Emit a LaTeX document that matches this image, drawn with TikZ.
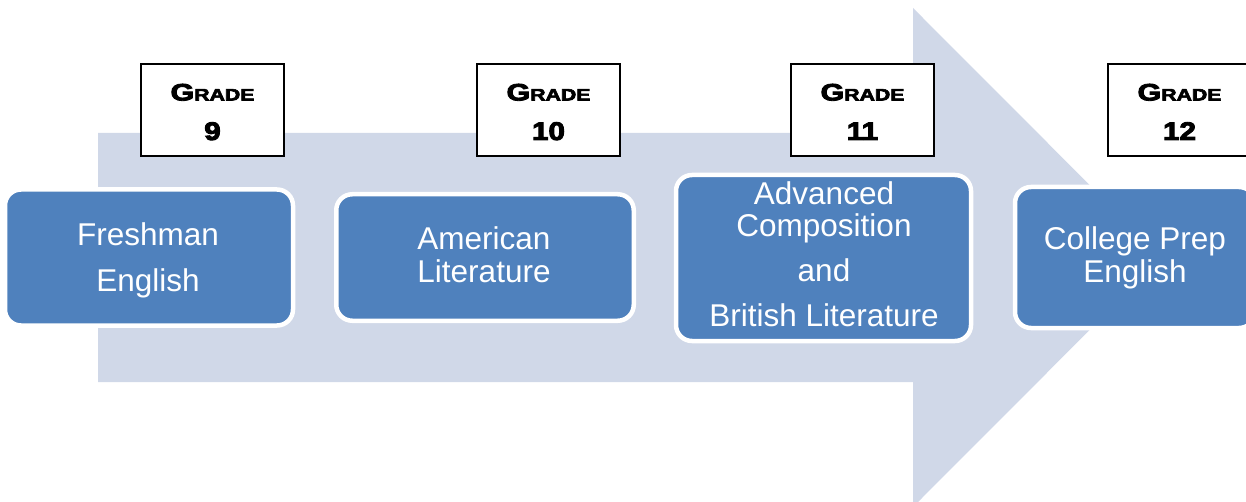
\documentclass[tikz,border=0pt]{standalone}
\usepackage{fontspec}
\usepackage{graphicx}
\setmainfont{Liberation Sans}
\newfontfamily\gradefont[FakeBold=3.5]{Liberation Sans Bold}
\definecolor{arrowfill}{RGB}{208,216,232}
\definecolor{boxblue}{RGB}{79,129,189}
\newcommand\gradeword{\scalebox{1.28}[1]{\gradefont\fontsize{23.8}{26}\selectfont G\fontsize{16.6}{18}\selectfont RADE}}
\newcommand\gradenum[1]{\scalebox{1.16}[1]{\gradefont\fontsize{25.5}{27}\selectfont #1}}
\newcommand\coursetxt[2]{\parbox[t]{320pt}{\centering\fontsize{31.5}{#1}\selectfont #2}}
\begin{document}
\begin{tikzpicture}[x=1pt,y=-1pt,
  course/.style={draw=white, line width=4.5pt, fill=boxblue, rounded corners=16pt, inner sep=0pt},
  coursetext/.style={anchor=base, text=white, inner sep=0pt},
  gradebox/.style={draw=black, line width=1.8pt, fill=white, inner sep=0pt},
  gradetext/.style={anchor=base, inner sep=0pt}]
\useasboundingbox (0,0) rectangle (1246,502);
\clip (0,0) rectangle (1246,502);
% big arrow
\fill[arrowfill] (98,133) -- (913,133) -- (913,8) -- (1162,257.5) -- (913,507) -- (913,382) -- (98,382) -- cycle;
% grade boxes
\node (g1) [gradebox, minimum width=143pt, minimum height=92pt] at (212.5,110) {};
\node (g2) [gradebox, minimum width=143pt, minimum height=92pt] at (548.5,110) {};
\node (g3) [gradebox, minimum width=143pt, minimum height=92pt] at (862.5,110) {};
\node (g4) [gradebox, minimum width=143pt, minimum height=92pt] at (1179.5,110) {};
\node (g1a) [gradetext] at (212.5,100.5) {\gradeword};
\node (g1b) [gradetext] at (212.5,140) {\gradenum{9}};
\node (g2a) [gradetext] at (548.5,100.5) {\gradeword};
\node (g2b) [gradetext] at (548.5,140) {\gradenum{10}};
\node (g3a) [gradetext] at (862.5,100.5) {\gradeword};
\node (g3b) [gradetext] at (862.5,140) {\gradenum{11}};
\node (g4a) [gradetext] at (1179.5,100.5) {\gradeword};
\node (g4b) [gradetext] at (1179.5,140) {\gradenum{12}};
% course boxes
\node (c1) [course, minimum width=288pt, minimum height=136pt] at (149,257.5) {};
\node (c2) [course, minimum width=297.5pt, minimum height=126.5pt] at (485,257.5) {};
\node (c3) [course, minimum width=295pt, minimum height=166pt] at (823.5,258) {};
\node (c4) [course, minimum width=240pt, minimum height=141pt] at (1135,257.5) {};
\node (t1) [coursetext] at (148,246) {\coursetxt{46}{Freshman\\English}};
\node (t2) [coursetext] at (484,250) {\coursetxt{33}{American\\Literature}};
\node (t3) [coursetext] at (824,205) {\coursetxt{32}{Advanced\\Composition\\[13pt]and\\[13pt]British Literature}};
\node (t4) [coursetext] at (1135,250) {\coursetxt{33}{College Prep\\English}};
\end{tikzpicture}
\end{document}
